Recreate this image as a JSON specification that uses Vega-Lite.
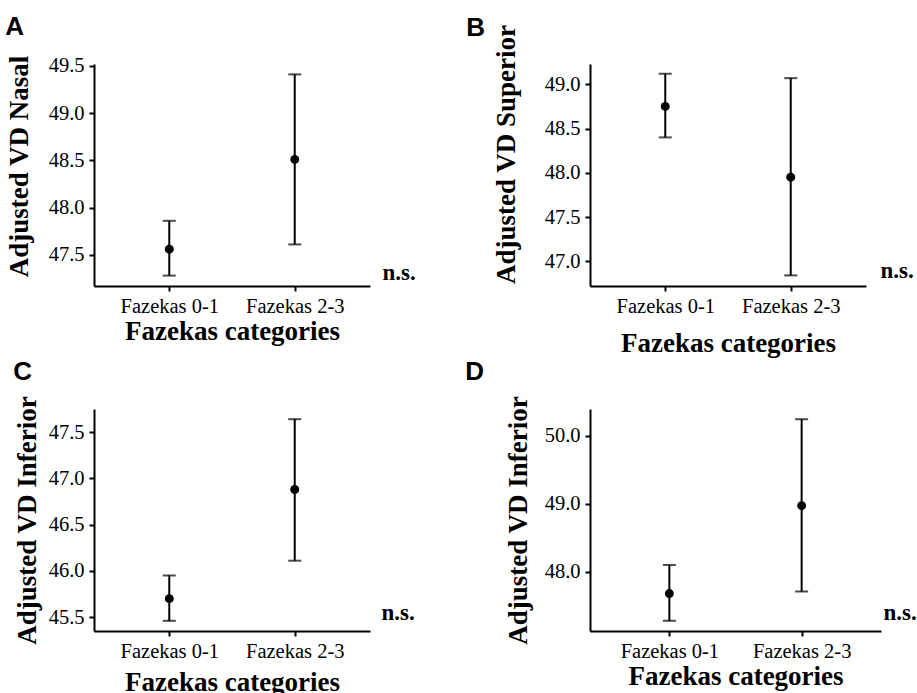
{
  "$schema": "https://vega.github.io/schema/vega-lite/v6.json",
  "background": "white",
  "padding": {"left": 5, "top": 13, "right": 0, "bottom": 0},
  "datasets": {
    "A": [
      {"g": "Fazekas 0-1", "m": 47.56, "lo": 47.28, "hi": 47.86},
      {"g": "Fazekas 2-3", "m": 48.51, "lo": 47.61, "hi": 49.41}
    ],
    "B": [
      {"g": "Fazekas 0-1", "m": 48.75, "lo": 48.40, "hi": 49.12},
      {"g": "Fazekas 2-3", "m": 47.95, "lo": 46.84, "hi": 49.07}
    ],
    "C": [
      {"g": "Fazekas 0-1", "m": 45.70, "lo": 45.46, "hi": 45.95},
      {"g": "Fazekas 2-3", "m": 46.88, "lo": 46.11, "hi": 47.64}
    ],
    "D": [
      {"g": "Fazekas 0-1", "m": 47.68, "lo": 47.28, "hi": 48.10},
      {"g": "Fazekas 2-3", "m": 48.97, "lo": 47.71, "hi": 50.24}
    ]
  },
  "columns": 2,
  "spacing": {"row": 123, "column": 220},
  "bounds": "flush",
  "concat": [
    {
      "width": 276, "height": 222,
      "data": {"name": "A"},
      "title": {"text": "A", "offset": 15},
      "encoding": {"x": {"field": "g", "type": "nominal", "sort": null, "scale": {"type": "point", "padding": 0.6}, "axis": {"title": "Fazekas categories", "labelAngle": 0, "titlePadding": 2}}},
      "layer": [
        {"mark": {"type": "rule", "strokeWidth": 2, "color": "black"},
         "encoding": {"y": {"field": "lo", "type": "quantitative", "scale": {"domain": [47.17, 49.52], "nice": false, "zero": false},
           "axis": {"orient": "right", "title": "n.s.", "labels": false, "ticks": false, "domain": false, "titleAngle": 0, "titleX": 12, "titleY": 215, "titleAlign": "left", "titleBaseline": "alphabetic", "titleFontSize": 23}},
           "y2": {"field": "hi"}}},
        {"mark": {"type": "tick", "thickness": 2, "size": 13, "color": "black"},
         "encoding": {"y": {"field": "lo", "type": "quantitative", "scale": {"domain": [47.17, 49.52], "nice": false, "zero": false}, "axis": null}}},
        {"mark": {"type": "tick", "thickness": 2, "size": 13, "color": "black"},
         "encoding": {"y": {"field": "hi", "type": "quantitative", "scale": {"domain": [47.17, 49.52], "nice": false, "zero": false}, "axis": null}}},
        {"mark": {"type": "point", "filled": true, "size": 80, "color": "black", "opacity": 1},
         "encoding": {"y": {"field": "m", "type": "quantitative", "scale": {"domain": [47.17, 49.52], "nice": false, "zero": false},
           "axis": {"title": "Adjusted VD Nasal", "values": [47.5, 48, 48.5, 49, 49.5], "format": ".1f", "titlePadding": 15, "titleY": 102}}}}
      ],
      "resolve": {"axis": {"y": "independent"}}
    },
    {
      "width": 276, "height": 222,
      "data": {"name": "B"},
      "title": {"text": "B", "offset": -17, "dx": -26},
      "encoding": {"x": {"field": "g", "type": "nominal", "sort": null, "scale": {"type": "point", "padding": 0.6}, "axis": {"title": "Fazekas categories", "labelAngle": 0, "titlePadding": 14}}},
      "layer": [
        {"mark": {"type": "rule", "strokeWidth": 2, "color": "black"},
         "encoding": {"y": {"field": "lo", "type": "quantitative", "scale": {"domain": [46.72, 49.23], "nice": false, "zero": false},
           "axis": {"orient": "right", "title": "n.s.", "labels": false, "ticks": false, "domain": false, "titleAngle": 0, "titleX": 14, "titleY": 213, "titleAlign": "left", "titleBaseline": "alphabetic", "titleFontSize": 23}},
           "y2": {"field": "hi"}}},
        {"mark": {"type": "tick", "thickness": 2, "size": 13, "color": "black"},
         "encoding": {"y": {"field": "lo", "type": "quantitative", "scale": {"domain": [46.72, 49.23], "nice": false, "zero": false}, "axis": null}}},
        {"mark": {"type": "tick", "thickness": 2, "size": 13, "color": "black"},
         "encoding": {"y": {"field": "hi", "type": "quantitative", "scale": {"domain": [46.72, 49.23], "nice": false, "zero": false}, "axis": null}}},
        {"mark": {"type": "point", "filled": true, "size": 80, "color": "black", "opacity": 1},
         "encoding": {"y": {"field": "m", "type": "quantitative", "scale": {"domain": [46.72, 49.23], "nice": false, "zero": false},
           "axis": {"title": "Adjusted VD Superior", "values": [47, 47.5, 48, 48.5, 49], "format": ".1f", "titlePadding": 24, "titleY": 90}}}}
      ],
      "resolve": {"axis": {"y": "independent"}}
    },
    {
      "width": 276, "height": 222,
      "data": {"name": "C"},
      "title": {"text": "C", "offset": 11},
      "encoding": {"x": {"field": "g", "type": "nominal", "sort": null, "scale": {"type": "point", "padding": 0.6}, "axis": {"title": "Fazekas categories", "labelAngle": 0, "titlePadding": 8}}},
      "layer": [
        {"mark": {"type": "rule", "strokeWidth": 2, "color": "black"},
         "encoding": {"y": {"field": "lo", "type": "quantitative", "scale": {"domain": [45.35, 47.75], "nice": false, "zero": false},
           "axis": {"orient": "right", "title": "n.s.", "labels": false, "ticks": false, "domain": false, "titleAngle": 0, "titleX": 11, "titleY": 210, "titleAlign": "left", "titleBaseline": "alphabetic", "titleFontSize": 23}},
           "y2": {"field": "hi"}}},
        {"mark": {"type": "tick", "thickness": 2, "size": 13, "color": "black"},
         "encoding": {"y": {"field": "lo", "type": "quantitative", "scale": {"domain": [45.35, 47.75], "nice": false, "zero": false}, "axis": null}}},
        {"mark": {"type": "tick", "thickness": 2, "size": 13, "color": "black"},
         "encoding": {"y": {"field": "hi", "type": "quantitative", "scale": {"domain": [45.35, 47.75], "nice": false, "zero": false}, "axis": null}}},
        {"mark": {"type": "point", "filled": true, "size": 80, "color": "black", "opacity": 1},
         "encoding": {"y": {"field": "m", "type": "quantitative", "scale": {"domain": [45.35, 47.75], "nice": false, "zero": false},
           "axis": {"title": "Adjusted VD Inferior", "values": [45.5, 46, 46.5, 47, 47.5], "format": ".1f", "titlePadding": 7}}}}
      ],
      "resolve": {"axis": {"y": "independent"}}
    },
    {
      "width": 291, "height": 222,
      "data": {"name": "D"},
      "title": {"text": "D", "offset": 11, "dx": -39},
      "encoding": {"x": {"field": "g", "type": "nominal", "sort": null, "scale": {"type": "point", "padding": 0.6}, "axis": {"title": "Fazekas categories", "labelAngle": 0, "titlePadding": 2}}},
      "layer": [
        {"mark": {"type": "rule", "strokeWidth": 2, "color": "black"},
         "encoding": {"y": {"field": "lo", "type": "quantitative", "scale": {"domain": [47.13, 50.39], "nice": false, "zero": false},
           "axis": {"orient": "right", "title": "n.s.", "labels": false, "ticks": false, "domain": false, "titleAngle": 0, "titleX": 2, "titleY": 210, "titleAlign": "left", "titleBaseline": "alphabetic", "titleFontSize": 23}},
           "y2": {"field": "hi"}}},
        {"mark": {"type": "tick", "thickness": 2, "size": 13, "color": "black"},
         "encoding": {"y": {"field": "lo", "type": "quantitative", "scale": {"domain": [47.13, 50.39], "nice": false, "zero": false}, "axis": null}}},
        {"mark": {"type": "tick", "thickness": 2, "size": 13, "color": "black"},
         "encoding": {"y": {"field": "hi", "type": "quantitative", "scale": {"domain": [47.13, 50.39], "nice": false, "zero": false}, "axis": null}}},
        {"mark": {"type": "point", "filled": true, "size": 80, "color": "black", "opacity": 1},
         "encoding": {"y": {"field": "m", "type": "quantitative", "scale": {"domain": [47.13, 50.39], "nice": false, "zero": false},
           "axis": {"title": "Adjusted VD Inferior", "values": [48, 49, 50], "format": ".1f", "titlePadding": 12}}}}
      ],
      "resolve": {"axis": {"y": "independent"}}
    }
  ],
  "config": {
    "view": {"stroke": null},
    "font": "Liberation Serif",
    "axis": {
      "labelFont": "Liberation Serif", "labelFontSize": 20.5, "labelColor": "black",
      "titleFont": "Liberation Serif", "titleFontSize": 27, "titleFontWeight": "bold", "titleColor": "black",
      "domainColor": "black", "domainWidth": 2, "tickColor": "black", "tickWidth": 2, "tickSize": 5,
      "labelPadding": 5, "grid": false
    },
    "title": {"font": "Liberation Sans", "fontSize": 26, "fontWeight": "bold", "color": "black", "anchor": "start", "frame": "bounds"}
  }
}
